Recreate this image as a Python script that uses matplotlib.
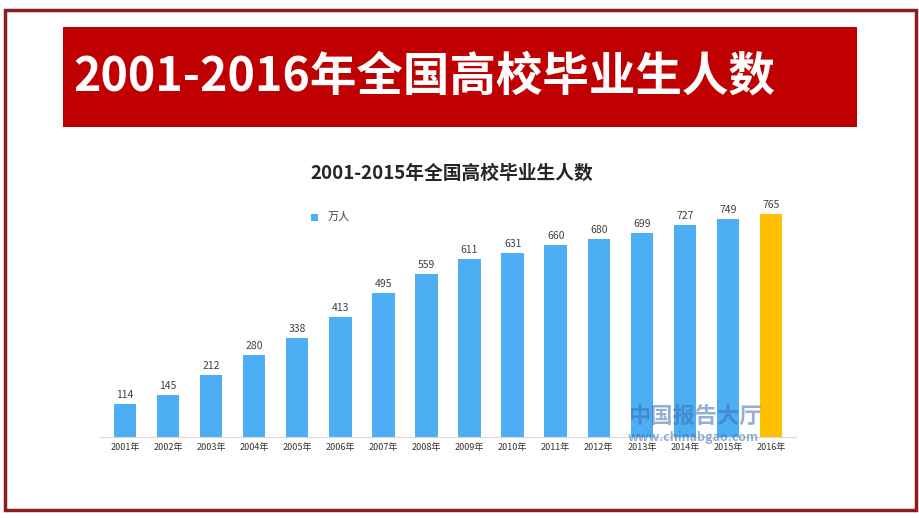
import matplotlib
matplotlib.use("Agg")
import matplotlib.pyplot as plt
from matplotlib.patches import Rectangle

plt.rcParams['font.family'] = ['Noto Sans CJK SC', 'DejaVu Sans']

years = ['2001年', '2002年', '2003年', '2004年', '2005年', '2006年', '2007年', '2008年',
         '2009年', '2010年', '2011年', '2012年', '2013年', '2014年', '2015年', '2016年']
grads = [114, 145, 212, 280, 338, 413, 495, 559, 611, 631, 660, 680, 699, 727, 749, 765]
colors = ['#4DAEF3'] * 15 + ['#FFC000']

W, H = 920, 518
fig = plt.figure(figsize=(W / 100, H / 100), dpi=100)
fig.patch.set_facecolor('white')

def fx(px):
    return px / W

def fy(py):
    return 1 - py / H

# outer frame
fig.patches.append(Rectangle((fx(5), fy(510)), fx(911), (510 - 10) / H, transform=fig.transFigure,
                             fill=False, edgecolor='#8B1E1E', linewidth=2.5))
# red banner
fig.patches.append(Rectangle((fx(63), fy(127)), fx(857 - 63), (127 - 27) / H, transform=fig.transFigure,
                             facecolor='#C00000', edgecolor='none'))
fig.text(fx(73), fy(77), '2001-2016年全国高校毕业生人数', color='white', fontsize=33.5,
         fontweight='bold', ha='left', va='center')

# chart
ax = fig.add_axes([fx(100), fy(437), fx(796 - 100), (437 - 200) / H])
x = list(range(len(years)))
bars = ax.bar(x, grads, width=0.52, color=colors)
for xi, v in zip(x, grads):
    ax.text(xi, v + 14, str(v), ha='center', va='bottom', fontsize=7.5, color='#404040')
ax.set_xlim(-0.58, 15.58)
ax.set_ylim(0, 813)
ax.set_xticks(x)
ax.set_xticklabels(years, fontsize=6.5, color='#333333')
ax.tick_params(axis='x', length=0, pad=4)
ax.set_yticks([])
for s in ['top', 'right', 'left']:
    ax.spines[s].set_visible(False)
ax.spines['bottom'].set_color('#D9D9D9')

fig.text(fx(452), fy(173), '2001-2015年全国高校毕业生人数', fontsize=13.5, fontweight='bold',
         color='#262626', ha='center', va='center')
fig.patches.append(Rectangle((fx(311), fy(221)), fx(7), 7 / H, transform=fig.transFigure,
                             facecolor='#4DAEF3', edgecolor='none'))
fig.text(fx(328), fy(217), '万人', fontsize=8, color='#404040', ha='left', va='center')

# watermark
fig.text(fx(628), fy(417), '中国报告大厅', fontsize=16, fontweight='bold', color='#3A6FB0',
         alpha=0.55, ha='left', va='center')
fig.text(fx(628), fy(437), 'www.chinabgao.com', fontsize=9, fontweight='bold', color='#3A6FB0',
         alpha=0.55, ha='left', va='center')

fig.savefig('out.png', dpi=100)
